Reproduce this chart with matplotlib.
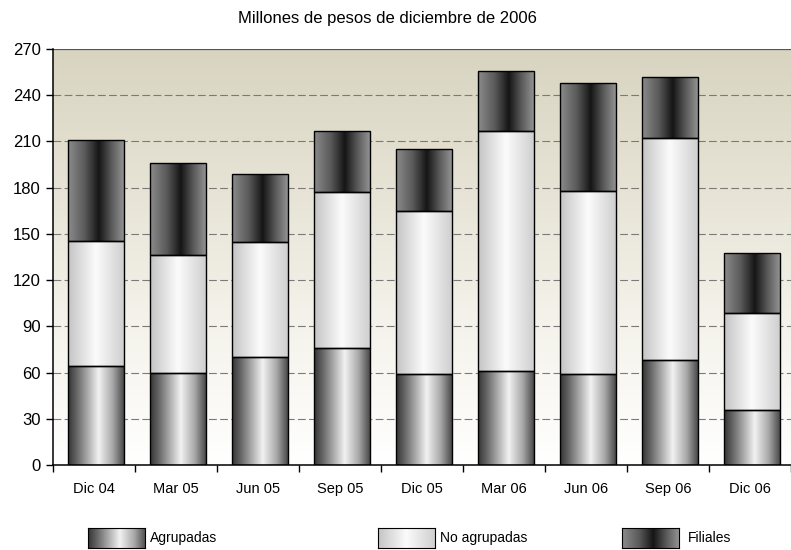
import numpy as np
import matplotlib
matplotlib.use("Agg")
import matplotlib.pyplot as plt
from matplotlib.colors import LinearSegmentedColormap

# Quarterly figures, millions of December-2006 pesos
categories = ["Dic 04", "Mar 05", "Jun 05", "Sep 05", "Dic 05",
              "Mar 06", "Jun 06", "Sep 06", "Dic 06"]
agrupadas = [64, 60, 70, 76, 59, 61, 59, 68, 36]
no_agrupadas = [81.5, 76, 75, 101, 106, 156, 119, 144.5, 62.5]
filiales = [65.5, 60, 44, 40, 40, 39, 70, 39.5, 39]
series_names = ["Agrupadas", "No agrupadas", "Filiales"]
y_ticks = list(range(0, 271, 30))
title = "Millones de pesos de diciembre de 2006"

plt.rcParams["font.family"] = ["Liberation Sans", "DejaVu Sans"]

# cylinder-like horizontal shading for each series
cmaps = {
    "Agrupadas": LinearSegmentedColormap.from_list("agr", [
        (0.0, "#343434"), (0.18, "#6e6e6e"), (0.55, "#f2f2f2"),
        (0.8, "#a8a8a8"), (1.0, "#4a4a4a")]),
    "No agrupadas": LinearSegmentedColormap.from_list("noa", [
        (0.0, "#c4c4c4"), (0.5, "#fbfbfb"), (1.0, "#cfcfcf")]),
    "Filiales": LinearSegmentedColormap.from_list("fil", [
        (0.0, "#8c8c8c"), (0.3, "#5a5a5a"), (0.55, "#151515"),
        (0.78, "#5a5a5a"), (1.0, "#939393")]),
}
grad = np.linspace(0, 1, 256).reshape(1, -1)

fig = plt.figure(figsize=(7.91, 5.5), dpi=100)
ax = fig.add_axes([53 / 791, 1 - 465 / 550, 1 - 53 / 791, 416 / 550])

x = np.arange(len(categories))
ax.set_xlim(-0.5, len(categories) - 0.5)
ax.set_ylim(0, 270)

# plot-area background: beige at the top fading to white
bg = LinearSegmentedColormap.from_list("bg", [(0.0, "#ffffff"), (0.35, "#f4f2ea"),
                                              (1.0, "#d8d4c0")])
ax.imshow(np.linspace(0, 1, 256).reshape(-1, 1), cmap=bg, origin="lower",
          extent=(-0.5, len(categories) - 0.5, 0, 270), aspect="auto",
          interpolation="bilinear", zorder=0)

for yv in y_ticks[1:-1]:
    ax.axhline(yv, color="#7a7a7a", lw=0.8, ls=(0, (7, 3)), zorder=1)
ax.axhline(270, color="#555555", lw=0.9, zorder=1)

bottom = np.zeros(len(categories))
width = 0.68
for name, vals in zip(series_names, [agrupadas, no_agrupadas, filiales]):
    bars = ax.bar(x + 0.02, vals, width, bottom=bottom, facecolor="none",
                  edgecolor="black", linewidth=1.0, zorder=3)
    for p in bars.patches:
        x0, y0 = p.get_x(), p.get_y()
        im = ax.imshow(grad, cmap=cmaps[name], aspect="auto",
                       extent=(x0, x0 + p.get_width(), y0, y0 + p.get_height()),
                       interpolation="bilinear", zorder=2)
        im.set_clip_path(p)
    bottom += np.array(vals)

ax.set_yticks(y_ticks)
ax.set_yticklabels([str(v) for v in y_ticks], fontsize=12)
ax.set_xticks(x)
ax.set_xticklabels(categories, fontsize=10.5)
ax.set_xticks(np.arange(-0.5, len(categories) - 0.4, 1), minor=True)
ax.tick_params(axis="x", which="major", length=0, pad=12)
ax.tick_params(axis="x", which="minor", length=5, width=1, direction="out")
ax.tick_params(axis="y", length=5, width=1, pad=4)

for s in ["top", "right"]:
    ax.spines[s].set_visible(False)
for s in ["left", "bottom"]:
    ax.spines[s].set_linewidth(1.1)

fig.text(387 / 791, 1 - 18 / 550, title, ha="center", va="center", fontsize=12)

# legend row beneath the axis
legend_pos = [(88, 150), (378, 440), (622, 688)]
for name, (px, tx) in zip(series_names, legend_pos):
    lax = fig.add_axes([px / 791, 1 - 548 / 550, 57 / 791, 20 / 550])
    lax.imshow(grad, cmap=cmaps[name], aspect="auto", interpolation="bilinear",
               extent=(0, 1, 0, 1))
    lax.set_xticks([])
    lax.set_yticks([])
    for sp in lax.spines.values():
        sp.set_linewidth(0.8)
    fig.text(tx / 791, 1 - 538 / 550, name, ha="left", va="center", fontsize=10)

fig.savefig("out.png", dpi=100)
